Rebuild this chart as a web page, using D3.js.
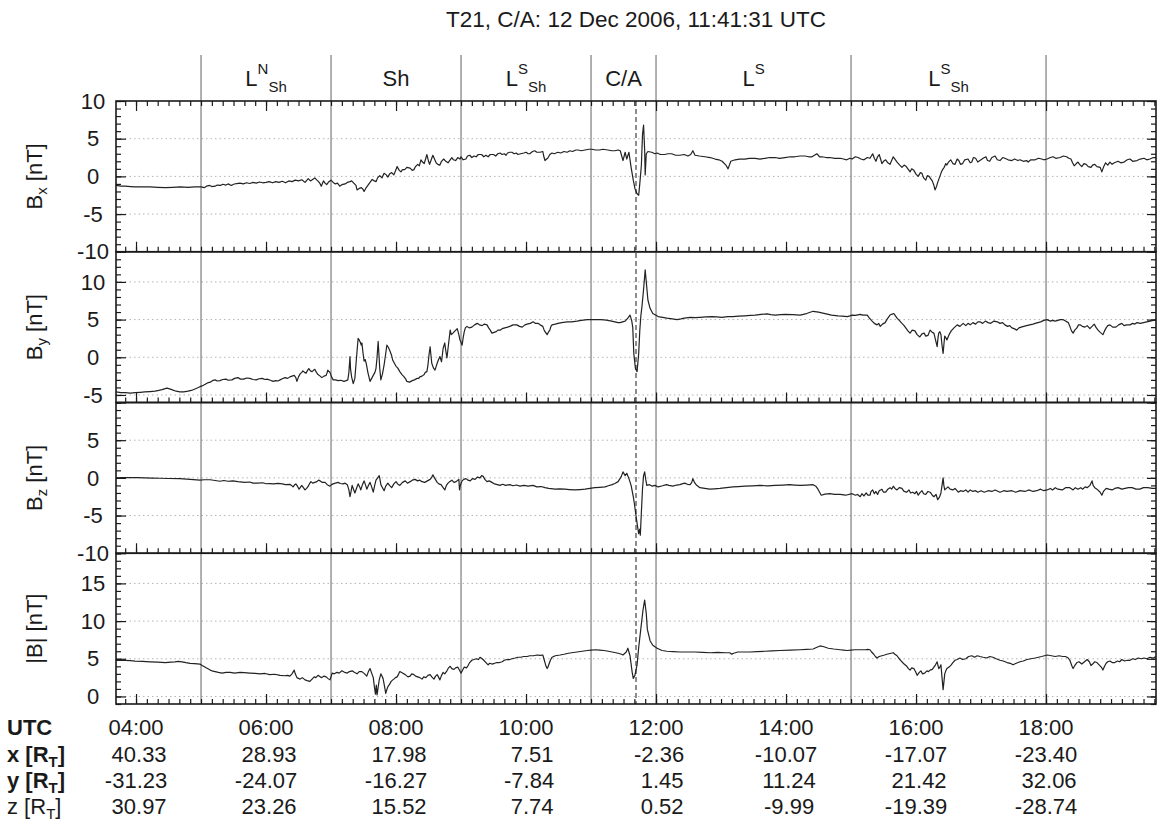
<!DOCTYPE html>
<html>
<head>
<meta charset="utf-8">
<script src="https://cdn.jsdelivr.net/npm/d3@7"></script>
<style>
  body { margin: 0; background: #fff; }
  text { font-family: "Liberation Sans", Arial, sans-serif; fill: #1a1a1a; }
</style>
</head>
<body>
<svg id="chart" width="1157" height="821"></svg>
<script>
// times are minutes of day (UTC), field values in nT
var caMinute = 11 * 60 + 41 + 31 / 60;

var bx = [[221.5,-1.2],[226,-1.3],[230,-1.3],[235,-1.35],[239,-1.4],[245,-1.4],[253,-1.4],[260,-1.45],[267,-1.5],[274,-1.45],[281,-1.4],[288,-1.45],[294,-1.4],[299,-1.4],
[300,-1.4],[303,-1.5],[305,-1.3],[308,-1.2],[310,-1.35],[313,-1.3],[315,-1.15],[318,-1.2],[320,-1.05],[323,-1.15],[325,-1.0],[328,-1.2],[330,-1.05],[333,-0.95],[336,-0.9],[339,-1.0],[342,-0.85],[345,-0.95],[348,-0.8],[351,-0.9],[354,-0.75],[357,-0.85],[360,-0.8],[363,-0.7],[366,-0.85],[369,-0.7],[372,-0.8],[375,-0.65],[378,-0.85],[381,-0.6],[384,-0.7],[387,-0.5],[390,-0.6],[393,-0.45],[396,-0.8],[399,-0.3],[401,-0.6],[403,-0.4],[405,-0.2],[407,-0.5],[408.5,-0.7],[410,-1.0],[411,-1.3],[413,-0.6],[414.5,-0.9],[416,-1.1],[418,-0.7],[420,-0.5],[422,-0.8],[424,-1.0],[426,-0.9],[428,-1.3],[430,-1.1],[433,-1.0],[435,-0.8],[437.5,-0.7],[439,-0.6],[441,-0.9],[443,-1.2],[444,-1.8],[446,-1.6],[448,-1.5],[449.5,-1.7],[450.5,-2.0],[452,-1.6],[454,-1.2],[456,-0.8],[458,-0.4],[460,-0.6],[461.5,-0.7],[463,-0.2],[465,0.1],[467,-0.2],[469,0.4],[471,0.2],[472.5,-0.1],[474,0.3],[476,0.5],[478,0.2],[480,0.9],[481,1.3],[483,0.8],[484.5,0.6],[486,0.9],[488,0.9],[490,1.2],[493,1.1],[495,0.8],[496.5,0.9],[498,1.3],[500,1.6],[501.5,1.4],[503,2.2],[504.5,1.9],[506,1.7],[507.5,2.4],[508.5,2.9],[510,2.0],[511,1.6],[512.5,2.2],[514,2.8],[515.5,2.3],[517,1.8],[518.5,1.6],[520.5,1.5],[522,2.0],[524,2.3],[526,2.0],[528,1.8],[530,2.2],[531.5,2.5],[533,2.2],[535,2.1],[537,2.5],[539,2.3],[540,2.6],[542,2.2],[544.5,2.3],[546,2.7],[548,2.8],[550,2.5],[552,2.7],[554,2.6],[556,2.9],[559,2.9],[561,2.6],[563,2.8],[565,2.6],[567,2.9],[570,2.9],[572,2.7],[574,3.0],[576,3.1],[578,2.9],[580,3.0],[581.5,2.8],[583,3.1],[585,3.2],[587,3.2],[589,3.0],[591,3.1],[592.5,2.9],[595,3.0],[598,3.1],[600,3.2],[602,3.0],[603.5,3.0],[606,3.3],[608,3.4],[610,3.2],[613,3.2],[615.5,3.3],[616.5,2.6],[617.5,2.1],[619,2.3],[620,2.4],[622,2.9],[624,3.1],[626,3.0],[629.5,3.2],[632,3.1],[635,3.3],[638,3.2],[640.5,3.4],[643,3.3],[646,3.5],[648,3.5],[651,3.4],[654.5,3.5],[658,3.6],[661,3.6],[664,3.5],[668,3.5],[671,3.6],[675.5,3.5],[679,3.4],[682,3.4],[685,3.5],[687,3.4],
[689.5,2.1],[691.5,3.2],[693,2.3],[695,3.2],[697,1.2],[699,-0.5],[700.5,-1.6],[702.5,-2.3],[704,-2.5],[705,-1.0],[706.5,1.5],[707.5,5.5],[708.5,6.8],[709.5,3.5],[710,0.2],[711,3.0],
[712.5,3.3],[716,3.2],[719,3.0],[721,3.1],[724,2.9],[728,2.9],[731,3.0],[734.5,3.0],[738,2.8],[742,2.8],[746,2.9],[749.5,2.7],[752,2.9],[754,3.4],[756,2.8],[760,2.7],[765,2.6],[770,2.5],[774.5,2.3],[778,2.2],[781,2.0],[784.5,1.5],[786.5,1.0],[789,2.0],[793,2.2],[797,2.3],[802,2.3],[806,2.4],[811.5,2.4],[816,2.3],[820.5,2.4],[825,2.5],[830,2.5],[834,2.4],[839,2.5],[844,2.6],[848,2.6],[853,2.7],[857.5,2.7],[861,2.6],[864,2.6],[868.5,3.0],[871,2.6],[873,2.6],[877,2.5],[880.5,2.5],[885,2.4],[890,2.4],[893,2.3],[896,2.2],[899,2.4],[901,2.3],
[904,2.6],[906.5,2.5],[909,2.3],[912,2.2],[915,2.5],[917.5,2.4],[920,3.0],[921.5,2.4],[923,2.0],[924.5,2.6],[926,2.9],[927.5,2.2],[928.5,1.7],[930,2.0],[932,2.2],[934,1.8],[936,1.6],[937.5,2.1],[939,2.6],[941,2.2],[942.5,1.9],[945,1.5],[947,1.2],[949,1.5],[951,1.3],[953,0.9],[954.5,0.6],[956,1.0],[958,0.8],[960,0.3],[962,0.0],[964,0.5],[965.5,0.4],[967,-0.2],[969,-0.5],[970.5,0.1],[972,0.0],[973.5,-0.3],[975,-0.6],[976.5,-1.2],[977.5,-1.8],[979,-1.3],[980,-0.8],[981.5,-0.2],[983,0.4],[984.5,0.9],[986,1.2],[987.5,1.7],[988.5,1.5],[990,1.9],[992,2.2],[994,1.7],[996,1.6],[998,2.3],[999.5,2.1],[1001,1.6],[1003,1.7],[1005,2.2],[1008,2.3],[1010,1.8],[1011.5,1.9],[1013,2.5],[1015,2.4],[1017,1.9],[1020,2.2],[1022,2.4],[1024.5,2.6],[1026,2.1],[1028,2.0],[1030,2.5],[1033,2.7],[1035,2.2],[1037.5,2.1],[1040,2.5],[1042,2.4],[1045,2.2],[1048.5,2.1],[1051,2.3],[1054,2.1],[1056,2.2],[1059,2.0],[1062,2.1],[1063.5,1.9],[1066,2.2],[1070,2.2],[1073,2.4],[1076,2.3],[1078,2.2],[1081,2.3],[1084,2.5],[1086.5,2.6],[1089,2.4],[1093,2.5],[1096,2.7],[1099,2.6],[1101,2.4],[1103,2.3],[1104.5,1.8],[1106,1.4],[1108,1.7],[1109.5,1.9],[1111,1.6],[1113,1.3],[1115,1.7],[1117,1.6],[1119,1.3],[1121.5,1.2],[1123,1.5],[1125,1.6],[1127,1.3],[1130,1.2],[1131.5,0.6],[1133,1.2],[1135,1.8],[1137,1.5],[1139,1.9],[1141,1.6],[1143,1.8],[1146.5,2.0],[1149,1.8],[1152,1.9],[1155,2.2],[1157.5,2.3],[1160,2.0],[1164,2.1],[1167,2.3],[1170.5,2.4],[1173,2.2],[1176,2.3],[1179,2.5],[1181.5,2.5]];

var by = [[221.5,-4.6],[226,-4.7],[230,-4.7],[235,-4.75],[239,-4.7],[244,-4.65],[248,-4.6],[253,-4.55],[257.5,-4.5],[261,-4.4],[264,-4.3],[268.5,-4.1],[271,-4.2],[273,-4.3],[277,-4.5],[280.5,-4.6],[284,-4.6],[288,-4.5],[291,-4.4],[294.5,-4.2],[297,-4.05],[299,-3.9],
[301,-3.8],[303.5,-3.6],[306,-3.4],[308.5,-3.3],[310.5,-3.1],[313,-3.0],[315,-3.15],[317.5,-3.1],[320,-2.95],[323,-2.9],[325,-3.05],[328.5,-3.0],[331,-2.8],[334,-2.7],[336.5,-2.9],[339.5,-2.9],[342,-2.75],[345,-2.8],[348,-2.95],[351,-3.0],[353.5,-2.85],[356.5,-2.8],[359,-2.95],[361,-2.9],[364,-3.05],[366.5,-3.2],[369,-3.1],[371,-3.15],[373,-3.0],[375,-2.85],[377.5,-2.7],[380,-2.8],[382,-2.6],[384,-2.5],[386,-2.4],[387.5,-2.7],[388.5,-3.2],[390,-2.6],[391.5,-2.2],[393,-2.0],[394,-1.8],[395.5,-2.0],[397,-2.1],[398.5,-1.7],[399.5,-1.5],[401,-1.8],[402.5,-1.9],[404,-1.7],[405,-1.6],[406.5,-2.0],[408,-2.3],[410,-2.5],[411.5,-2.7],[413.5,-2.5],[415.5,-2.4],[416.5,-2.0],[417,-1.7],[418,-1.9],[419,-2.0],[420.5,-2.6],[422,-3.0],[424,-3.0],[426.5,-3.1],[429,-3.05],[432,-3.2],[434,-3.1],[435.5,-3.0],[436.5,-2.0],[437.5,0.1],[438,-1.5],[439,-2.6],[440.5,-3.5],[442,-2.8],[443,-1.0],[444,0.8],[445,2.5],[446,2.3],[447,2.0],[448,1.6],[448.5,1.9],[449.5,0.6],[450.5,-0.5],[451.5,-0.3],[452.5,-0.8],[454,-2.0],[455,-2.6],[456,-3.2],[457.5,-2.8],[459,-2.4],[460.5,-2.0],[461.5,-1.5],[462.5,0.0],[463.5,2.1],[464.3,0.2],[465,-1.5],[466,-3.0],[467.5,-2.2],[469,-1.0],[470.5,0.5],[471.5,1.6],[473,1.3],[474.5,0.8],[476,0.2],[477,-0.4],[478.5,-0.8],[480,-1.2],[481.5,-1.4],[483.5,-1.9],[485.5,-2.3],[487.5,-2.6],[489,-2.9],[490,-3.2],[492.5,-3.3],[495,-3.1],[497,-3.0],[499.5,-2.8],[501,-2.8],[502,-2.6],[504,-2.5],[506,-2.3],[507,-2.0],[508.5,-1.9],[509.5,-1.0],[510.5,0.4],[511.5,1.4],[512.2,0.3],[513,-0.8],[514.5,-1.4],[516,-1.7],[517.5,-1.0],[519,-0.4],[520.5,0.1],[522,-0.6],[523.5,1.2],[525,1.9],[526,0.8],[527,-0.1],[528.5,1.8],[530,3.6],[531,3.0],[532.5,3.2],[534.5,3.5],[536.5,3.8],[538,3.0],[539,2.3],[540,2.0],[541,1.6],[542,2.6],[543,3.4],[544,3.9],[545.5,4.1],[547.5,3.9],[550,4.0],[552.5,4.3],[555,4.5],[557,4.3],[559.5,4.2],[561.5,4.4],[564,4.3],[565.5,3.9],[567,3.6],[568.5,3.2],[570.5,3.3],[572.5,3.4],[574,3.6],[576,3.6],[578,3.8],[580.5,3.9],[583,4.0],[585,4.1],[588,4.3],[591.5,4.3],[594,4.1],[596.5,4.0],[599,4.3],[601,4.4],[604,4.5],[606.5,4.7],[608.5,4.5],[611,4.5],[613,4.3],[615.5,4.1],[616.5,3.7],[617.5,3.4],[619.5,3.0],[620.5,3.3],[622,3.6],[623,4.1],[624,4.3],[627,4.4],[629.5,4.5],[633,4.6],[638,4.7],[642,4.7],[647,4.8],[651,4.9],[656.5,5.0],[660,5.0],[663.5,5.0],[668.5,5.0],[672,4.95],[675.5,4.9],[679,4.8],[682,4.7],[685,4.6],[687,4.6],[689,4.7],[691.5,4.8],[694,5.2],[696,5.6],
[697.5,4.9],[698.5,4.0],[699.5,0.5],[701,-1.5],[702.5,-1.9],[704,0.5],[705,3.5],[706,5.5],[707,6.7],[708.5,9.0],[710,11.6],[711,10.0],[712.5,7.6],[714.5,6.5],[717,5.8],
[722,5.4],[726,5.3],[730,5.2],[735,5.1],[739.5,5.0],[743,5.1],[746,5.2],[751.5,5.3],[756,5.25],[760.5,5.3],[766,5.35],[771.5,5.4],[776,5.35],[781,5.3],[786,5.4],[791,5.4],[796,5.45],[802,5.5],[807,5.55],[811.5,5.6],[817,5.7],[822.5,5.75],[826,5.65],[830,5.6],[835,5.65],[839,5.7],[846,5.65],[853,5.6],[859,5.8],[865,6.1],[870,6.0],[876,5.8],[882,5.6],[888,5.5],[892,5.45],[896.5,5.4],[899,5.5],[901,5.6],[904,5.55],[908.5,5.7],[911,5.6],[915,5.6],[917,5.2],[919.5,4.8],[921.5,4.5],[924,4.3],[925.5,4.5],[927,4.1],[929,4.4],[931.5,4.6],[933.5,5.1],[936,5.6],[937.5,5.7],[939.5,5.8],[941,5.5],[942.5,5.2],[944.5,4.9],[947,4.5],[949,4.2],[951,3.8],[952.5,3.5],[954.5,3.2],[956.5,3.6],[959,3.5],[961,3.0],[963.5,2.7],[965.5,3.1],[967.5,3.2],[969,2.8],[971,2.9],[973,3.6],[975,3.3],[976.5,3.2],[977.5,2.6],[978.5,2.0],[979.5,1.4],[980.3,2.6],[981,3.2],[982,3.4],[983,3.0],[984,1.6],[985,0.5],[985.8,1.8],[986.5,2.8],[987.5,2.6],[988.5,2.3],[990.5,3.0],[992.5,3.5],[995,3.9],[998,4.3],[1000.5,4.1],[1003.5,4.5],[1006,4.2],[1008,4.5],[1010,4.3],[1012.5,4.6],[1015,4.4],[1017,4.7],[1019,4.7],[1021.5,4.5],[1024,4.8],[1026.5,4.6],[1029,4.5],[1032,4.8],[1035,4.7],[1037.5,4.5],[1040,4.6],[1042,4.3],[1044.5,4.1],[1046.5,4.2],[1048.5,3.9],[1050.5,3.8],[1053,3.6],[1055,3.9],[1057,4.0],[1059.5,4.1],[1062,4.2],[1065,4.3],[1068,4.4],[1070,4.5],[1072.5,4.6],[1075,4.7],[1078,4.9],[1081,5.0],[1084,4.8],[1086,4.9],[1088.5,4.8],[1091,4.9],[1093,5.0],[1095.5,5.0],[1098,4.8],[1100.5,4.6],[1102,4.1],[1103,3.7],[1104,3.4],[1105,3.2],[1106.5,3.6],[1108.5,3.9],[1110,4.3],[1111.5,4.3],[1113.5,4.1],[1116,4.0],[1118,4.2],[1120.5,3.8],[1122.5,4.1],[1124.5,4.4],[1126,4.0],[1128,3.6],[1130,3.3],[1132.5,3.0],[1134,3.5],[1135.5,3.9],[1137,4.2],[1139,4.3],[1141.5,4.0],[1144.5,4.0],[1147,4.3],[1150,4.5],[1152,4.2],[1154.5,4.3],[1157.5,4.3],[1160,4.5],[1162,4.4],[1164,4.6],[1167,4.5],[1170,4.6],[1173,4.7],[1176,4.8],[1179,4.9],[1181.5,5.0]];

var bz = [[221.5,0.0],[228,0.03],[234.5,0.05],[241,0.02],[248,0.0],[255,-0.03],[262,-0.05],[270,-0.08],[280.5,-0.1],[290,-0.2],[299,-0.3],[303,-0.25],[308.5,-0.25],[313,-0.35],[317.5,-0.45],[321,-0.35],[325,-0.45],[329.5,-0.4],[334,-0.5],[340.5,-0.6],[345,-0.55],[348,-0.7],[352.5,-0.7],[357,-0.65],[360,-0.78],[363.5,-0.75],[367,-0.8],[371,-0.72],[375,-0.8],[378,-0.9],[382,-0.85],[383.5,-1.0],[385,-1.2],[386.5,-0.9],[387.5,-0.8],[389,-1.1],[390.5,-1.5],[392,-1.2],[393,-1.0],[394.5,-1.3],[396,-1.6],[397.5,-1.4],[399,-1.1],[400,-0.8],[401.5,-0.5],[403,-0.7],[405,-0.6],[407,-0.5],[408.5,-0.3],[410,-0.4],[412,-0.6],[414.5,-0.6],[416.5,-0.9],[419,-1.1],[420.5,-0.9],[422,-0.8],[424,-0.7],[426.5,-0.6],[428.5,-0.75],[431,-0.8],[433,-0.7],[435,-0.9],[436.5,-1.6],[437.5,-2.5],[438.5,-1.8],[439.5,-1.0],[441,-1.6],[442,-2.0],[443.5,-1.4],[445,-0.8],[446.5,-1.2],[447.5,-1.6],[449,-0.9],[450.5,-0.4],[452,-1.0],[453,-1.5],[454.5,-1.0],[456,-0.6],[457.5,-1.2],[459,-1.9],[460.3,-1.0],[461.5,-0.3],[463,0.0],[464.5,0.3],[465.3,-0.3],[466,-0.9],[467.5,-1.3],[469,-1.7],[470.5,-1.1],[472.5,-0.7],[474,-1.0],[476,-1.3],[478,-0.8],[480,-0.5],[481.5,-0.8],[483.5,-1.0],[486,-0.6],[488.5,-0.4],[490.5,-0.7],[493,-0.5],[495,-0.3],[497.5,-0.2],[500,-0.4],[502,-0.3],[504,-0.5],[506.5,-0.6],[509,-0.4],[511.5,-0.2],[513,0.1],[514,0.4],[515.5,0.0],[518,-0.6],[519.5,-0.8],[521.5,-0.9],[523,-1.2],[525,-1.6],[526.5,-1.0],[528,-0.7],[529.5,-0.5],[531.5,-0.3],[533.5,-0.6],[535.5,-0.5],[537,-0.3],[538,-0.2],[538.6,-1.6],[539.3,-1.0],[541,-0.4],[542.5,-0.2],[544.5,-0.1],[546.5,-0.3],[548.5,-0.4],[550.5,-0.1],[553,-0.2],[555,0.1],[557.5,0.0],[559,0.3],[560.5,0.2],[562,-0.2],[564,-0.5],[566,-0.4],[568.5,-0.6],[571,-0.8],[573.5,-0.9],[576,-1.0],[578.5,-0.85],[581,-1.0],[585,-0.9],[588,-1.05],[591,-0.95],[594.5,-1.1],[598,-1.0],[602,-1.1],[606.5,-1.0],[610,-1.2],[614,-1.15],[617.5,-1.3],[621,-1.4],[627,-1.5],[631,-1.45],[636,-1.5],[640,-1.55],[645,-1.6],[650,-1.55],[654.5,-1.5],[659,-1.4],[663.5,-1.3],[668,-1.25],[673,-1.2],[676,-1.05],[679.5,-0.9],[682,-0.75],[685,-0.5],
[688,0.2],[689.5,0.8],[691.5,0.3],[693,0.6],[695,-0.1],[697,-1.0],[699,-2.5],[700,-3.4],[701.5,-5.0],[703,-6.5],[704,-7.4],[705,-6.8],[705.5,-7.6],[706.5,-4.5],[707.5,-1.5],[708.5,0.3],[709.5,0.8],[710.5,-0.2],
[711.5,-1.0],[714,-0.9],[716.5,-1.1],[719,-1.0],[722,-1.2],[726,-1.05],[729.5,-0.9],[732,-1.0],[735.5,-1.1],[739,-0.95],[742,-0.9],[744,-0.8],[746.5,-0.7],[749,-0.85],[751.5,-0.9],[753,-0.6],[754,-0.1],[755.5,-0.6],[757,-0.9],[760.5,-1.3],[765,-1.4],[769.5,-1.5],[774,-1.45],[779,-1.4],[785,-1.3],[791,-1.2],[796,-1.15],[802,-1.1],[809,-1.05],[816,-1.0],[823,-1.05],[830,-1.0],[837,-0.95],[843.5,-0.9],[848,-0.95],[853,-1.0],[859,-0.95],[865,-0.9],[867.5,-1.1],[869.5,-1.5],[872.5,-2.3],[876,-2.15],[880.5,-2.1],[885,-2.2],[890,-2.2],[895,-2.3],[901,-2.1],[904,-2.3],[906,-2.2],[908.5,-2.5],[910,-2.1],[912,-2.4],[914,-2.0],[915.5,-2.3],[917.5,-2.3],[918.5,-1.8],[920,-1.6],[921.5,-2.1],[923,-1.8],[924.5,-2.2],[926,-1.7],[928.5,-1.5],[930,-1.9],[932,-1.9],[934,-1.5],[936,-1.3],[937.5,-1.5],[939,-1.1],[940.5,-1.4],[942.5,-1.6],[944.5,-1.3],[947,-1.4],[949,-1.8],[951.5,-1.9],[953.5,-1.6],[955,-2.0],[957,-1.9],[959,-2.1],[960.5,-1.8],[962,-2.3],[963.5,-2.0],[965.5,-1.7],[967,-2.1],[969,-2.2],[971,-1.8],[973,-1.9],[975,-2.3],[976.5,-2.5],[978.5,-2.2],[980,-2.9],[981.5,-2.6],[983,-2.0],[984,-1.0],[985,0.0],[985.7,-1.0],[986.5,-1.6],[988,-1.4],[989.5,-1.2],[991.5,-1.5],[994,-1.6],[996,-1.4],[999,-1.9],[1001,-1.7],[1003.5,-1.8],[1006,-1.6],[1008,-1.9],[1010,-1.6],[1012.5,-1.8],[1015,-1.7],[1017,-1.9],[1020,-1.7],[1023,-1.9],[1026.5,-1.7],[1030,-1.8],[1033,-1.6],[1037.5,-1.9],[1041,-1.7],[1044,-1.8],[1048.5,-1.7],[1052,-1.9],[1056,-1.7],[1060.5,-1.8],[1064,-1.6],[1068,-1.8],[1071.5,-1.7],[1075,-1.5],[1078,-1.7],[1081,-1.6],[1084,-1.4],[1086,-1.6],[1088.5,-1.3],[1091,-1.5],[1095,-1.6],[1098,-1.3],[1102,-1.3],[1105,-1.6],[1107,-1.3],[1109.5,-1.5],[1112,-1.3],[1114,-1.5],[1116,-1.2],[1118,-1.3],[1120.5,-1.0],[1122.5,-0.4],[1123.5,-1.0],[1125,-1.3],[1127,-1.5],[1130,-1.9],[1131.5,-2.3],[1133,-1.8],[1135.5,-1.4],[1138,-1.5],[1141,-1.6],[1143.5,-1.4],[1146.5,-1.3],[1150,-1.5],[1153,-1.4],[1156,-1.3],[1159.5,-1.3],[1163,-1.5],[1166.5,-1.5],[1170,-1.3],[1174,-1.3],[1178,-1.4],[1181.5,-1.4]];

var bmag = [[221.5,4.8],[226,4.8],[230,4.8],[235,4.75],[239,4.7],[246,4.65],[253,4.6],[260,4.55],[267,4.5],[272,4.55],[276,4.6],[279,4.65],[282.5,4.6],[286,4.5],[290,4.4],[294,4.35],[299,4.3],[301,4.1],[303.5,3.9],[306,3.7],[308.5,3.5],[311,3.35],[313,3.3],[316,3.2],[319.5,3.1],[323,3.2],[327,3.2],[331,3.1],[336,3.2],[340,3.15],[345,3.1],[350,3.05],[354.5,3.0],[359,3.05],[363.5,2.9],[368,2.95],[373,2.8],[377,2.75],[380,2.8],[382,2.7],[384,3.0],[386,3.5],[387,3.0],[388.5,2.5],[390,2.4],[391.5,2.3],[393.5,2.5],[396,2.2],[398,2.1],[400.5,2.0],[402.5,2.3],[404.5,2.6],[406,2.5],[408,2.8],[410,2.6],[411.5,2.5],[413.5,2.7],[415.5,2.6],[417,2.4],[419,2.2],[420,2.6],[421,3.1],[423,3.0],[425.5,3.2],[427.5,3.1],[430,3.4],[432.5,3.2],[435,3.1],[437,3.3],[439.5,3.4],[441.5,3.2],[444,3.0],[446,3.3],[448.5,3.3],[451,3.0],[453,2.7],[454.5,3.3],[456,3.7],[457.5,3.1],[459,2.5],[460,1.3],[461,0.3],[461.8,1.5],[462.5,0.2],[463.5,1.2],[464.5,2.2],[466,3.0],[467,2.7],[468,2.4],[469.3,1.4],[470.5,0.4],[471.5,0.9],[472.5,1.3],[474,1.6],[475.5,2.0],[477,2.2],[478,2.3],[479.5,2.5],[481,2.6],[482.5,3.0],[483.5,3.3],[486,3.1],[488.5,2.9],[491,2.6],[493,2.7],[494.5,3.0],[496.5,2.9],[498,2.7],[500,2.6],[502,2.5],[504,2.3],[505.5,2.6],[507.5,2.5],[509.5,2.8],[511.5,2.9],[513,2.6],[515,2.3],[516.5,2.7],[518,2.9],[519.5,2.5],[520.5,2.2],[522,2.8],[523.5,3.2],[525,3.0],[527,3.4],[528.5,3.8],[530,4.0],[531.5,3.7],[533.5,3.6],[535,3.8],[537,3.9],[538.5,3.5],[540,3.1],[541.5,3.5],[543,3.9],[545,3.8],[546.5,4.1],[548,4.5],[550,4.8],[552,4.9],[554,5.0],[556,4.9],[557.5,5.2],[559.5,5.0],[561,4.8],[563,4.5],[565,4.2],[566.5,4.4],[568.5,4.3],[571,4.4],[573,4.5],[575.5,4.5],[578,4.6],[580,4.8],[582.5,4.9],[585,4.9],[587,5.0],[590,5.1],[592.5,5.2],[595,5.2],[598,5.3],[601,5.3],[603.5,5.4],[607,5.4],[610,5.5],[613,5.45],[615.5,5.5],[616.5,5.0],[617.5,4.5],[618.5,4.0],[619.5,3.7],[620.3,3.9],[621,4.2],[622.5,4.8],[624,5.2],[627,5.4],[631.5,5.5],[635,5.6],[638,5.7],[642,5.8],[647,5.9],[652,6.0],[656.5,6.1],[660,6.15],[664.5,6.2],[668,6.15],[672,6.1],[676,6.0],[679.5,5.9],[683,5.8],[686,5.7],[688,5.6],[689.5,5.5],
[692.5,5.9],[694,6.4],[696,5.4],[698,3.2],[699,2.4],[700.5,2.8],[702.5,4.2],[704,6.5],[706,9.0],[708,11.5],[709.5,12.8],[711,11.0],[712,8.9],[714.5,7.4],[717,6.8],
[721,6.4],[725.5,6.1],[730,6.0],[736,5.95],[742,5.9],[749,5.9],[756,5.9],[763,5.85],[770,5.8],[777,5.85],[784,5.8],[788,5.8],[790,5.6],[791,5.7],[795.5,5.9],[801,5.9],[806.5,5.9],[813,5.95],[820.5,6.0],[827,6.05],[834.5,6.1],[844,6.15],[853,6.2],[859,6.25],[865,6.3],[868,6.5],[871.5,6.7],[875,6.6],[879,6.4],[884,6.3],[890,6.2],[893,6.15],[896.5,6.1],[900,6.15],[903.5,6.2],[908,6.2],[913,6.2],[915.5,6.25],[917.5,6.2],[919,5.9],[921,5.6],[922.5,5.3],[924,5.1],[926,5.3],[928.5,5.4],[931,5.5],[933,5.6],[936,5.7],[939,5.8],[940.5,5.6],[942.5,5.4],[944.5,5.0],[947,4.6],[949,4.3],[951.5,4.0],[953,3.7],[954.5,3.5],[956,3.8],[958,3.7],[959.5,3.3],[961,2.8],[963,3.2],[964.5,3.4],[966,3.0],[968,3.1],[970,3.4],[971.5,3.3],[973,3.5],[975,3.6],[976.5,3.9],[978,4.2],[979.5,4.6],[980.3,4.1],[981,3.7],[982,3.9],[983,4.2],[984,2.5],[985,0.9],[985.8,2.0],[986.5,3.0],[987.5,3.4],[988.5,3.7],[990.5,3.9],[992.5,4.2],[994,4.5],[996,4.8],[998,4.9],[1000.5,5.1],[1003,4.9],[1006,5.0],[1008.5,5.3],[1011.5,5.4],[1014,5.2],[1016.5,5.4],[1019,5.3],[1022,5.2],[1025.5,5.1],[1028,5.3],[1031,5.2],[1034,5.0],[1037.5,4.8],[1040.5,4.7],[1044,4.5],[1047,4.4],[1049.5,4.2],[1052.5,4.4],[1056,4.6],[1059,4.7],[1062.5,4.9],[1066,5.0],[1070,5.1],[1073,5.2],[1076,5.3],[1078.5,5.4],[1081,5.5],[1085,5.4],[1088.5,5.3],[1092,5.4],[1095.5,5.3],[1098,5.3],[1100.5,5.1],[1102,4.8],[1103,4.4],[1104,4.0],[1105,3.7],[1106.5,4.1],[1108.5,4.5],[1110.5,4.6],[1113,4.3],[1115.5,4.6],[1118,4.9],[1120,4.6],[1121.5,4.1],[1123,4.3],[1125,4.6],[1127,4.5],[1129,4.2],[1131,3.9],[1132.5,3.5],[1134,4.0],[1135.5,4.4],[1137,4.6],[1139,4.7],[1141,4.5],[1143.5,4.5],[1146,4.7],[1148,4.6],[1150,4.9],[1152.5,4.7],[1155,4.8],[1157.5,4.8],[1160,5.0],[1162.5,4.9],[1165,5.1],[1168,5.0],[1170.5,5.1],[1173,5.0],[1176,5.2],[1179,5.1],[1181.5,5.3]];

// y ranges and labelled ticks of the four panels
var bxDomain = [-10, 10], bxTicks = [10, 5, 0, -5, -10];
var byDomain = [-6, 14], byTicks = [10, 5, 0, -5];
var bzDomain = [-10, 10], bzTicks = [5, 0, -5, -10];
var bmagDomain = [-1, 19], bmagTicks = [15, 10, 5, 0];

// region boundaries (minutes of day) and names
var regionBounds = [300, 420, 540, 660, 720, 900, 1080];
var regionNames = [["L", "N", "Sh"], ["Sh", "", ""], ["L", "S", "Sh"], ["C/A", "", ""], ["L", "S", ""], ["L", "S", "Sh"]];

// trajectory table
var utcMinutes = [240, 360, 480, 600, 720, 840, 960, 1080];
var utcLabels = ["04:00", "06:00", "08:00", "10:00", "12:00", "14:00", "16:00", "18:00"];
var xPos = [40.33, 28.93, 17.98, 7.51, -2.36, -10.07, -17.07, -23.40];
var yPos = [-31.23, -24.07, -16.27, -7.84, 1.45, 11.24, 21.42, 32.06];
var zPos = [30.97, 23.26, 15.52, 7.74, 0.52, -9.99, -19.39, -28.74];

var svg = d3.select("#chart");
var left = 116, right = 1156, top0 = 101, panelH = 150.75;
var bottom = top0 + 4 * panelH;

var x = d3.scaleLinear().domain([caMinute - 480, caMinute + 480]).range([left, right]);

var panels = [
  { data: bx, domain: bxDomain, ticks: bxTicks, name: "B", sub: "x", unit: " [nT]" },
  { data: by, domain: byDomain, ticks: byTicks, name: "B", sub: "y", unit: " [nT]" },
  { data: bz, domain: bzDomain, ticks: bzTicks, name: "B", sub: "z", unit: " [nT]" },
  { data: bmag, domain: bmagDomain, ticks: bmagTicks, name: "|B|", sub: "", unit: " [nT]" }
];

var minorX = d3.range(230, 1181, 10);
var majorX = d3.range(240, 1181, 120);

// title
svg.append("text").attr("x", (left + right) / 2).attr("y", 27)
  .attr("text-anchor", "middle").style("font-size", "22.5px")
  .text("T21, C/A: 12 Dec 2006, 11:41:31 UTC");

var gGrid = svg.append("g"), gRegion = svg.append("g"), gData = svg.append("g"), gAxes = svg.append("g");

panels.forEach(function(p, i) {
  var y0 = top0 + i * panelH, y1 = y0 + panelH;
  var y = d3.scaleLinear().domain(p.domain).range([y1, y0]);

  // dotted grid at labelled values inside the panel
  gGrid.selectAll(null).data(p.ticks.filter(function(v) { return v > p.domain[0] && v < p.domain[1]; }))
    .enter().append("line")
    .attr("x1", left).attr("x2", right)
    .attr("y1", function(d) { return y(d); }).attr("y2", function(d) { return y(d); })
    .attr("stroke", "#b4b4b4").attr("stroke-width", 1).attr("stroke-dasharray", "1.5,3");

  gData.append("path").datum(p.data)
    .attr("fill", "none").attr("stroke", "#222").attr("stroke-width", 1.2)
    .attr("stroke-linejoin", "round")
    .attr("d", d3.line().x(function(d) { return x(d[0]); }).y(function(d) { return y(d[1]); }));

  var ax = gAxes.append("g");
  var minorY = d3.range(Math.ceil(p.domain[0]), p.domain[1] + 1, 1);
  var majorY = minorY.filter(function(v) { return v % 5 === 0; });

  ax.append("g").attr("transform", "translate(" + left + ",0)")
    .call(d3.axisRight(y).tickValues(minorY).tickSize(5).tickFormat(""));
  ax.append("g").attr("transform", "translate(" + left + ",0)")
    .call(d3.axisRight(y).tickValues(majorY).tickSize(10).tickFormat(""));
  ax.append("g").attr("transform", "translate(" + right + ",0)")
    .call(d3.axisLeft(y).tickValues(minorY).tickSize(5).tickFormat(""));
  ax.append("g").attr("transform", "translate(" + right + ",0)")
    .call(d3.axisLeft(y).tickValues(majorY).tickSize(9).tickFormat(""));
  ax.append("g").attr("transform", "translate(0," + y1 + ")")
    .call(d3.axisTop(x).tickValues(minorX).tickSize(5).tickFormat(""));
  ax.append("g").attr("transform", "translate(0," + y1 + ")")
    .call(d3.axisTop(x).tickValues(majorX).tickSize(10).tickFormat(""));
  if (i === 0) {
    ax.append("g").attr("transform", "translate(0," + y0 + ")")
      .call(d3.axisBottom(x).tickValues(minorX).tickSize(5).tickFormat(""));
    ax.append("g").attr("transform", "translate(0," + y0 + ")")
      .call(d3.axisBottom(x).tickValues(majorX).tickSize(10).tickFormat(""));
  }
  ax.selectAll(".domain").remove();
  ax.selectAll(".tick line").attr("stroke", "#1a1a1a").attr("stroke-width", 1.2);

  ax.append("rect").attr("x", left).attr("y", y0).attr("width", right - left).attr("height", panelH)
    .attr("fill", "none").attr("stroke", "#1a1a1a").attr("stroke-width", 1.6);

  // tick labels
  ax.selectAll(null).data(p.ticks).enter().append("text")
    .attr("x", 93).attr("y", function(d) { return y(d); }).attr("dy", "0.35em")
    .attr("text-anchor", "middle").style("font-size", "22px")
    .text(function(d) { return d; });

  // rotated axis title
  var t = ax.append("text").attr("text-anchor", "middle").style("font-size", "22px")
    .attr("transform", "translate(42," + (y0 + panelH / 2) + ") rotate(-90)");
  t.append("tspan").text(p.name);
  if (p.sub) {
    t.append("tspan").attr("dy", 5).style("font-size", "15px").text(p.sub);
    t.append("tspan").attr("dy", -5).text(p.unit);
  } else {
    t.append("tspan").text(p.unit);
  }
});

// region separators and labels
gRegion.selectAll(null).data(regionBounds).enter().append("line")
  .attr("x1", function(d) { return x(d); }).attr("x2", function(d) { return x(d); })
  .attr("y1", 55).attr("y2", bottom)
  .attr("stroke", "#707070").attr("stroke-width", 1.1);

regionNames.forEach(function(r, i) {
  var cx = x((regionBounds[i] + regionBounds[i + 1]) / 2);
  var t = svg.append("text").attr("x", cx).attr("y", 86).attr("text-anchor", "middle")
    .style("font-size", "22px");
  t.append("tspan").text(r[0]);
  if (r[1]) t.append("tspan").attr("dy", -12).style("font-size", "15px").text(r[1]);
  if (r[2]) t.append("tspan").attr("dy", r[1] ? 18 : 6).style("font-size", "15px").text(r[2]);
});

// closest approach marker
gData.append("line")
  .attr("x1", x(caMinute)).attr("x2", x(caMinute)).attr("y1", top0).attr("y2", bottom)
  .attr("stroke", "#1a1a1a").attr("stroke-width", 1).attr("stroke-dasharray", "5,3");

// trajectory table below the plot (plain hyphen for negative numbers)
var fmt = d3.formatLocale({ decimal: ".", thousands: ",", grouping: [3], currency: ["", ""], minus: "-" }).format("6.2f");
var rows = [
  { label: ["UTC", "", ""], bold: true, values: utcLabels },
  { label: ["x [R", "T", "]"], bold: true, values: xPos.map(fmt) },
  { label: ["y [R", "T", "]"], bold: true, values: yPos.map(fmt) },
  { label: ["z [R", "T", "]"], bold: false, values: zPos.map(fmt) }
];
var rowY = [735, 761.5, 788, 814];

rows.forEach(function(r, i) {
  var lt = svg.append("text").attr("x", 7).attr("y", rowY[i]).style("font-size", "22px")
    .style("font-weight", r.bold ? "bold" : "normal");
  lt.append("tspan").text(r.label[0]);
  if (r.label[1]) {
    lt.append("tspan").attr("dy", 5).style("font-size", "15px").text(r.label[1]);
    lt.append("tspan").attr("dy", -5).text(r.label[2]);
  }
  svg.selectAll(null).data(r.values).enter().append("text")
    .attr("x", function(d, j) { return x(utcMinutes[j]); })
    .attr("y", rowY[i]).attr("text-anchor", "middle")
    .style("font-size", "22px").style("white-space", "pre")
    .text(function(d) { return d; });
});
</script>
</body>
</html>
